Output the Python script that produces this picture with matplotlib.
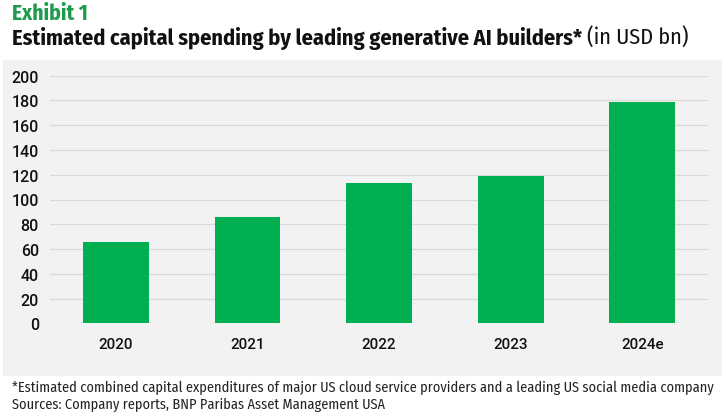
import matplotlib
matplotlib.use('Agg')
import matplotlib.pyplot as plt

# data
years = ['2020', '2021', '2022', '2023', '2024e']
capex = [66, 86, 113, 119, 179]
yticks = list(range(0, 201, 20))

BAR_GREEN = '#00b050'
TITLE_GREEN = '#1f9a4c'
PANEL = '#f2f2f2'
GRID = '#d9d9d9'
COND = ['Fira Sans Condensed', 'DejaVu Sans']

plt.rcParams['font.family'] = ['Roboto', 'Liberation Sans', 'DejaVu Sans']

W, H = 725.0, 414.0
fig = plt.figure(figsize=(W / 100, H / 100), dpi=100)
fig.patch.set_facecolor('white')

# grey panel behind the chart
bg = fig.add_axes([3 / W, (H - 377) / H, 719 / W, 316 / H])
bg.set_facecolor(PANEL)
bg.set_xticks([])
bg.set_yticks([])
for s in bg.spines.values():
    s.set_visible(False)

ax = fig.add_axes([50 / W, (H - 324.3) / H, 658 / W, 247.6 / H])
ax.set_facecolor('none')

ax.bar(range(len(years)), capex, width=0.5, color=BAR_GREEN, zorder=3)

ax.set_xlim(-0.5, len(years) - 0.5)
ax.set_ylim(0, 200)
ax.set_yticks(yticks)
ax.set_xticks(range(len(years)))
ax.set_xticklabels(years)
for t in ax.get_xticklabels() + ax.get_yticklabels():
    t.set_fontweight('medium')
ax.yaxis.grid(True, color=GRID, linewidth=0.9, zorder=0)
ax.set_axisbelow(True)
for s in ax.spines.values():
    s.set_visible(False)
ax.tick_params(axis='both', length=0, labelsize=11.5, colors='#111111')
ax.tick_params(axis='y', pad=8)
ax.tick_params(axis='x', pad=10, labelsize=11)

fig.text(12 / W, 1 - 19.5 / H, 'Exhibit 1', color=TITLE_GREEN, fontsize=15.5,
         fontweight='bold', family=COND, va='baseline')
t1 = fig.text(12 / W, 1 - 44.5 / H,
              'Estimated capital spending by leading generative AI builders*',
              color='#111111', fontsize=16, fontweight='bold',
              family=COND, va='baseline')
fig.canvas.draw()
bb = t1.get_window_extent()
fig.text(bb.x1 / W + 0.007, 1 - 44.5 / H, '(in USD bn)', color='#111111',
         fontsize=16, family=COND, va='baseline')

fig.text(12 / W, 1 - 392 / H,
         '*Estimated combined capital expenditures of major US cloud service providers '
         'and a leading US social media company',
         color='#222222', fontsize=10.3, family=COND, va='baseline')
fig.text(12 / W, 1 - 408.5 / H,
         'Sources: Company reports, BNP Paribas Asset Management USA',
         color='#222222', fontsize=10.3, family=COND, va='baseline')

fig.savefig('out.png', dpi=100, facecolor='white')
